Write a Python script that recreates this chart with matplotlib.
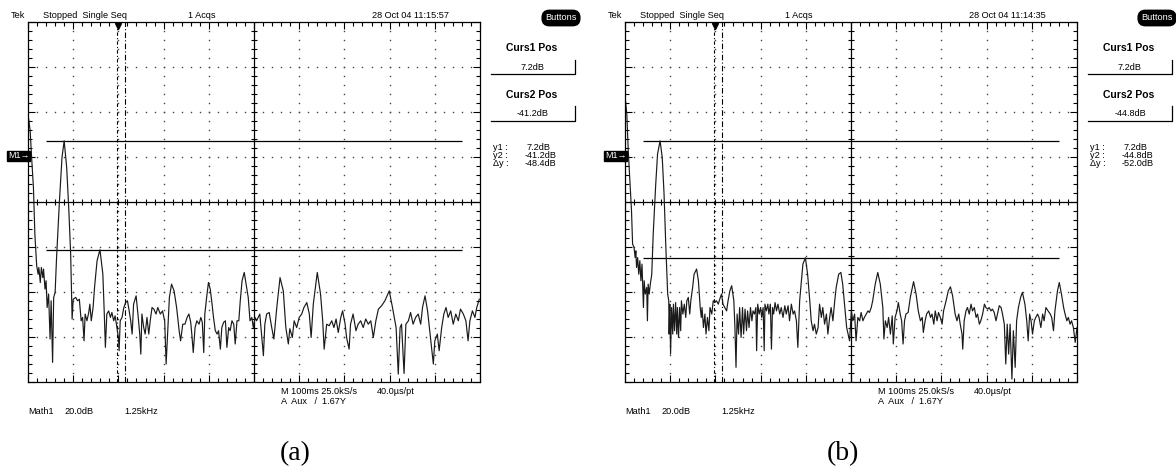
import numpy as np
import matplotlib.pyplot as plt
from matplotlib.lines import Line2D

plt.rcParams['font.family'] = ['Liberation Sans', 'DejaVu Sans']

# FFT of Math1, (frequency in kHz, level in dB)
trace_a = [
    (0.00, 19.1), (0.06, 11.6), (0.10, -0.2), (0.15, -13.5), (0.19, -34.3),
    (0.24, -48.3), (0.28, -52.1), (0.30, -49.1), (0.34, -55.8), (0.37, -49.1),
    (0.41, -53.6), (0.43, -49.8), (0.47, -58.7), (0.50, -55.0), (0.53, -66.9),
    (0.57, -60.9), (0.61, -80.9), (0.64, -63.9), (0.68, -91.3), (0.71, -62.4),
    (0.75, -60.2), (0.79, -44.7), (0.87, -19.5), (0.94, -0.2), (1.00, 7.2),
    (1.07, -4.7), (1.13, -23.9), (1.18, -43.2), (1.22, -72.0), (1.25, -63.2),
    (1.32, -62.4), (1.37, -63.9), (1.42, -63.2), (1.47, -72.8), (1.51, -71.3),
    (1.55, -81.7), (1.58, -69.8), (1.63, -72.8), (1.68, -69.1), (1.71, -65.4),
    (1.75, -72.8), (1.80, -66.9), (1.84, -58.0), (1.91, -46.1), (1.99, -41.2),
    (2.07, -52.1), (2.11, -69.8), (2.14, -84.6), (2.18, -69.8), (2.23, -68.4),
    (2.28, -71.3), (2.32, -69.1), (2.37, -72.8), (2.41, -70.6), (2.46, -75.8),
    (2.50, -80.2), (2.52, -86.1), (2.55, -72.8), (2.60, -71.3), (2.65, -66.9),
    (2.70, -64.7), (2.75, -63.9), (2.79, -67.6), (2.84, -72.8), (2.88, -78.7),
    (2.92, -65.4), (2.99, -61.7), (3.04, -69.8), (3.09, -78.7), (3.12, -87.6),
    (3.15, -69.8), (3.20, -75.8), (3.24, -78.7), (3.29, -71.3), (3.34, -78.7),
    (3.38, -72.8), (3.43, -66.9), (3.48, -67.6), (3.54, -69.8), (3.59, -66.9),
    (3.66, -69.8), (3.72, -68.4), (3.78, -72.8), (3.82, -92.0), (3.86, -78.7),
    (3.91, -62.4), (3.97, -56.5), (4.04, -59.5), (4.11, -66.9), (4.18, -77.2),
    (4.22, -81.7), (4.28, -74.3), (4.34, -74.3), (4.40, -71.3), (4.45, -69.8),
    (4.50, -73.5), (4.53, -78.7), (4.57, -86.9), (4.62, -75.8), (4.67, -72.8),
    (4.73, -74.3), (4.78, -71.3), (4.82, -73.5), (4.86, -86.9), (4.89, -69.8),
    (4.94, -62.4), (4.99, -55.8), (5.04, -58.7), (5.09, -65.4), (5.13, -71.3),
    (5.18, -77.2), (5.23, -78.7), (5.27, -77.2), (5.32, -85.4), (5.36, -75.8),
    (5.41, -73.5), (5.46, -72.8), (5.50, -84.6), (5.55, -75.8), (5.59, -77.2),
    (5.64, -72.8), (5.69, -74.3), (5.73, -83.1), (5.78, -72.8), (5.83, -72.8),
    (5.87, -63.9), (5.92, -55.0), (5.98, -51.3), (6.09, -62.4), (6.14, -72.8),
    (6.19, -71.3), (6.23, -75.8), (6.28, -71.3), (6.32, -72.8), (6.41, -69.8),
    (6.51, -88.3), (6.55, -74.3), (6.60, -69.8), (6.67, -69.1), (6.74, -75.8),
    (6.80, -80.9), (6.88, -66.9), (6.97, -53.6), (7.06, -59.5), (7.13, -75.8),
    (7.20, -83.1), (7.24, -76.3), (7.31, -80.2), (7.36, -72.8), (7.43, -75.8),
    (7.50, -71.3), (7.57, -69.8), (7.63, -66.9), (7.71, -64.7), (7.78, -69.8),
    (7.83, -80.2), (7.89, -65.4), (8.00, -51.3), (8.09, -60.9), (8.15, -72.8),
    (8.19, -85.4), (8.26, -74.3), (8.33, -75.0), (8.40, -72.8), (8.46, -75.8),
    (8.52, -72.0), (8.58, -78.0), (8.65, -71.3), (8.70, -68.4), (8.77, -74.3),
    (8.81, -80.2), (8.88, -85.4), (8.92, -74.3), (8.99, -69.8), (9.07, -77.2),
    (9.13, -74.3), (9.20, -72.8), (9.27, -75.8), (9.34, -72.0), (9.41, -74.3),
    (9.48, -72.8), (9.55, -80.2), (9.62, -72.8), (9.69, -67.6), (9.78, -66.1),
    (9.87, -63.9), (9.99, -59.5), (10.08, -66.9), (10.18, -75.8), (10.24, -96.5),
    (10.29, -75.8), (10.33, -74.3), (10.40, -96.2), (10.45, -74.3), (10.52, -72.8),
    (10.58, -69.1), (10.65, -74.3), (10.72, -71.3), (10.79, -69.8), (10.86, -74.3),
    (10.91, -66.9), (10.98, -61.7), (11.05, -68.4), (11.12, -78.7), (11.16, -84.6),
    (11.21, -92.0), (11.25, -81.7), (11.32, -78.7), (11.37, -86.1), (11.44, -75.8),
    (11.50, -69.8), (11.56, -66.9), (11.62, -71.3), (11.69, -68.4), (11.76, -74.3),
    (11.83, -69.8), (11.90, -72.8), (11.96, -67.6), (12.04, -69.8), (12.11, -72.8),
    (12.17, -81.7), (12.22, -72.8), (12.29, -68.4), (12.36, -71.3), (12.41, -66.9),
    (12.48, -63.2),
]

trace_b = [
    (0.00, 27.2), (0.05, 19.1), (0.09, 2.8), (0.14, -12.0), (0.18, -23.9),
    (0.21, -38.7), (0.25, -40.2), (0.28, -44.7), (0.30, -41.7), (0.32, -49.1),
    (0.35, -44.7), (0.38, -52.1), (0.41, -46.1), (0.44, -55.0), (0.47, -47.6),
    (0.51, -66.9), (0.53, -55.0), (0.56, -60.9), (0.60, -58.0), (0.62, -72.8),
    (0.64, -56.5), (0.67, -60.9), (0.70, -56.5), (0.74, -52.1), (0.78, -34.3),
    (0.85, -12.0), (0.90, 1.3), (0.97, 7.2), (1.03, -0.2), (1.08, -16.5),
    (1.13, -40.2), (1.18, -60.9), (1.21, -63.9), (1.22, -78.7), (1.24, -65.4),
    (1.26, -87.6), (1.29, -66.9), (1.32, -78.7), (1.34, -65.4), (1.37, -77.2),
    (1.40, -64.7), (1.43, -78.7), (1.45, -66.9), (1.48, -80.2), (1.51, -66.9),
    (1.54, -77.2), (1.56, -63.9), (1.60, -69.8), (1.64, -65.4), (1.68, -71.3),
    (1.71, -63.9), (1.75, -62.4), (1.79, -69.8), (1.82, -63.9), (1.87, -58.0),
    (1.91, -52.1), (1.98, -49.8), (2.03, -55.0), (2.08, -66.9), (2.11, -71.3),
    (2.13, -66.9), (2.17, -75.8), (2.21, -69.8), (2.24, -78.7), (2.28, -71.3),
    (2.32, -77.2), (2.35, -66.9), (2.40, -69.8), (2.44, -63.9), (2.48, -64.7),
    (2.53, -63.9), (2.58, -65.4), (2.62, -63.2), (2.67, -60.9), (2.71, -65.4),
    (2.76, -66.9), (2.81, -68.4), (2.85, -63.9), (2.90, -59.5), (2.95, -57.2),
    (3.01, -63.9), (3.04, -75.8), (3.07, -93.5), (3.10, -69.8), (3.14, -78.7),
    (3.17, -66.9), (3.21, -80.2), (3.25, -66.9), (3.28, -78.7), (3.32, -67.6),
    (3.36, -77.2), (3.39, -68.4), (3.43, -75.8), (3.47, -66.9), (3.51, -72.8),
    (3.54, -68.4), (3.58, -69.8), (3.62, -66.9), (3.64, -86.1), (3.67, -65.4),
    (3.71, -69.8), (3.75, -66.9), (3.78, -71.3), (3.82, -66.9), (3.85, -86.1),
    (3.87, -65.4), (3.91, -68.4), (3.95, -65.4), (3.98, -69.8), (4.02, -65.4),
    (4.05, -85.4), (4.08, -66.9), (4.11, -69.8), (4.15, -64.7), (4.19, -68.4),
    (4.23, -65.4), (4.28, -69.8), (4.32, -66.9), (4.37, -71.3), (4.42, -66.1),
    (4.46, -69.8), (4.51, -66.1), (4.55, -72.8), (4.60, -65.4), (4.65, -69.8),
    (4.69, -68.4), (4.74, -72.8), (4.78, -84.6), (4.83, -63.9), (4.88, -55.0),
    (4.92, -47.6), (4.99, -44.8), (5.05, -52.1), (5.11, -63.9), (5.15, -72.8),
    (5.20, -77.2), (5.24, -74.3), (5.29, -78.7), (5.34, -75.8), (5.38, -65.4),
    (5.43, -71.3), (5.47, -66.9), (5.52, -74.3), (5.57, -69.8), (5.61, -78.7),
    (5.66, -71.3), (5.70, -66.9), (5.75, -72.8), (5.80, -63.9), (5.84, -58.0),
    (5.91, -52.1), (5.97, -51.3), (6.02, -56.5), (6.08, -66.9), (6.13, -75.8),
    (6.17, -78.7), (6.21, -81.7), (6.26, -68.4), (6.30, -72.8), (6.35, -69.8),
    (6.39, -81.7), (6.44, -71.3), (6.49, -72.8), (6.53, -69.1), (6.58, -72.8),
    (6.62, -71.3), (6.67, -69.8), (6.72, -68.4), (6.76, -69.1), (6.81, -66.9),
    (6.85, -63.9), (6.92, -56.5), (6.99, -51.3), (7.06, -56.5), (7.13, -66.9),
    (7.16, -80.9), (7.20, -72.8), (7.25, -75.8), (7.29, -71.3), (7.34, -78.7),
    (7.39, -70.6), (7.42, -83.1), (7.47, -71.3), (7.52, -68.4), (7.56, -64.7),
    (7.61, -69.8), (7.65, -72.8), (7.69, -83.1), (7.73, -72.8), (7.77, -69.8),
    (7.83, -69.1), (7.89, -62.4), (7.98, -55.4), (8.05, -60.9), (8.11, -68.4),
    (8.17, -72.8), (8.22, -71.3), (8.25, -78.0), (8.30, -72.8), (8.34, -69.8),
    (8.40, -68.4), (8.45, -71.3), (8.49, -69.8), (8.54, -74.3), (8.58, -68.4),
    (8.63, -72.8), (8.67, -69.1), (8.72, -71.3), (8.77, -74.3), (8.81, -68.4),
    (8.88, -63.9), (8.94, -59.5), (9.00, -57.7), (9.06, -61.7), (9.13, -69.8),
    (9.18, -72.8), (9.23, -69.8), (9.27, -74.3), (9.32, -78.7), (9.34, -85.4),
    (9.38, -72.8), (9.43, -68.4), (9.47, -66.9), (9.52, -69.8), (9.57, -65.4),
    (9.61, -68.4), (9.66, -66.9), (9.71, -71.3), (9.75, -69.8), (9.80, -74.3),
    (9.84, -72.8), (9.89, -69.8), (9.94, -65.4), (9.98, -66.9), (10.03, -67.6),
    (10.07, -66.9), (10.12, -68.4), (10.16, -67.6), (10.21, -69.1), (10.26, -72.8),
    (10.30, -69.8), (10.35, -66.1), (10.40, -66.9), (10.44, -69.8), (10.49, -74.3),
    (10.53, -92.0), (10.57, -74.3), (10.61, -87.6), (10.65, -74.3), (10.70, -98.7),
    (10.74, -77.2), (10.79, -93.5), (10.83, -72.8), (10.88, -66.9), (10.94, -62.4),
    (10.99, -60.2), (11.06, -65.4), (11.11, -72.8), (11.15, -81.7), (11.19, -69.8),
    (11.23, -72.8), (11.27, -78.7), (11.32, -72.8), (11.36, -71.3), (11.41, -69.8),
    (11.45, -71.3), (11.50, -75.8), (11.55, -69.8), (11.59, -72.8), (11.64, -66.9),
    (11.70, -68.4), (11.76, -69.8), (11.80, -71.3), (11.85, -77.2), (11.89, -68.4),
    (11.96, -59.5), (12.01, -55.8), (12.07, -60.9), (12.13, -66.9), (12.17, -69.8),
    (12.22, -72.8), (12.26, -71.3), (12.31, -74.3), (12.35, -72.8), (12.40, -75.8),
    (12.45, -82.4), (12.50, -75.8),
]

traces = [trace_a, trace_b]
curs1_db = [7.2, 7.2]
curs2_db = [-41.2, -44.8]
timestamps = ["28 Oct 04 11:15:57", "28 Oct 04 11:14:35"]
captions = ["(a)", "(b)"]
caption_x = [295, 843]
buttons_x = [561, 1157]

# scope settings
khz_per_div = 1.25
db_per_div = 20.0
center_db = -20.0
cursor_span = (0.5, 12.0)       # horizontal cursor bars, kHz
vcursors = (2.45, 2.69)         # vertical dash-dot cursors, kHz
trigger_khz = 2.49

W, H = 1176, 472
fig = plt.figure(figsize=(W / 100, H / 100), dpi=100)


def fx(x):
    return x / W


def fy(y):
    return 1 - y / H


def ftext(x, y, s, **kw):
    kw.setdefault('fontsize', 6.6)
    kw.setdefault('va', 'center')
    kw.setdefault('color', 'black')
    fig.text(fx(x), fy(y), s, **kw)


def fline(xs, ys, lw=0.9):
    fig.add_artist(Line2D([fx(v) for v in xs], [fy(v) for v in ys],
                          color='black', lw=lw))


def draw_panel(i, dx):
    f, lev = np.array(traces[i]).T
    x0, x1, y0, y1 = 28 + dx, 480 + dx, 22, 382
    ax = fig.add_axes([fx(x0), fy(y1), (x1 - x0) / W, (y1 - y0) / H])
    xmax = 10 * khz_per_div
    ymin, ymax = center_db - 4 * db_per_div, center_db + 4 * db_per_div
    ax.set_xlim(0, xmax)
    ax.set_ylim(ymin, ymax)

    # graticule frame with inward ticks
    xmaj = np.arange(0, xmax + 1e-6, khz_per_div)
    ymaj = np.arange(ymin, ymax + 1e-6, db_per_div)
    xmin_t = np.arange(0, xmax + 1e-6, khz_per_div / 5)
    ymin_t = np.arange(ymin, ymax + 1e-6, db_per_div / 5)
    ax.set_xticks(xmaj)
    ax.set_yticks(ymaj)
    ax.set_xticks(xmin_t, minor=True)
    ax.set_yticks(ymin_t, minor=True)
    ax.tick_params(which='both', direction='in', top=True, right=True,
                   labelbottom=False, labelleft=False, color='black', width=0.8)
    ax.tick_params(which='major', length=5)
    ax.tick_params(which='minor', length=3)
    for s in ax.spines.values():
        s.set_linewidth(0.9)

    # dotted division lines
    for xv in xmaj[1:-1]:
        if abs(xv - xmax / 2) < 1e-6:
            continue
        ax.plot(np.full_like(ymin_t, xv), ymin_t, ls='none', marker='s',
                ms=1.0, mew=0, color='#444444')
    for yv in ymaj[1:-1]:
        if abs(yv - center_db) < 1e-6:
            continue
        ax.plot(xmin_t, np.full_like(xmin_t, yv), ls='none', marker='s',
                ms=1.0, mew=0, color='#444444')

    # center crosshair with minor ticks
    ax.axhline(center_db, color='black', lw=0.9)
    ax.axvline(xmax / 2, color='black', lw=0.9)
    ax.plot(xmin_t, np.full_like(xmin_t, center_db), ls='none', marker='|',
            ms=5, mew=0.8, color='black')
    ax.plot(np.full_like(ymin_t, xmax / 2), ymin_t, ls='none', marker='_',
            ms=5, mew=0.8, color='black')

    # cursors
    ax.hlines([curs1_db[i], curs2_db[i]], *cursor_span, color='black', lw=0.9)
    ax.axvline(vcursors[0], color='black', lw=0.8, ls=(0, (3, 2, 1, 2)))
    ax.axvline(vcursors[1], color='black', lw=0.8, ls=(0, (5, 2, 1, 2)))
    ax.plot(trigger_khz, ymax - 1.6, marker='v', ms=5, color='black',
            clip_on=False)

    # spectrum
    ax.plot(f, lev, color='#1a1a1a', lw=0.85)

    # header line
    ftext(11 + dx, 15, "Tek")
    ftext(43 + dx, 15, "Stopped  Single Seq")
    ftext(188 + dx, 15, "1 Acqs")
    ftext(449 + dx, 15, timestamps[i], ha='right')
    ftext(buttons_x[i], 18, "Buttons", ha='center', color='white',
          bbox=dict(boxstyle='round,pad=0.35,rounding_size=0.8',
                    fc='black', ec='black'))

    # cursor readouts
    ftext(532 + dx, 48, "Curs1 Pos", ha='center', fontsize=7.5, weight='bold')
    ftext(533 + dx, 67, f"{curs1_db[i]:.1f}dB", ha='center')
    fline([491 + dx, 575 + dx, 575 + dx], [74, 74, 60])
    ftext(532 + dx, 95, "Curs2 Pos", ha='center', fontsize=7.5, weight='bold')
    ftext(533 + dx, 113, f"{curs2_db[i]:.1f}dB", ha='center')
    fline([491 + dx, 575 + dx, 575 + dx], [121, 121, 106])
    ftext(493 + dx, 147, "y1 :")
    ftext(493 + dx, 155, "y2 :")
    ftext(493 + dx, 163, "\u0394y :")
    ftext(527 + dx, 147, f"{curs1_db[i]:.1f}dB")
    ftext(525 + dx, 155, f"{curs2_db[i]:.1f}dB")
    ftext(525 + dx, 163, f"{curs2_db[i] - curs1_db[i]:.1f}dB")

    # reference marker
    ftext(8 + dx, 156, "M1\u2192", color='white', fontsize=6.5,
          bbox=dict(boxstyle='square,pad=0.1', fc='black', ec='black'))

    # bottom status
    ftext(281 + dx, 391, "M 100ms 25.0kS/s")
    ftext(377 + dx, 391, "40.0\u00b5s/pt")
    ftext(281 + dx, 401, "A  Aux   /  1.67Y")
    ftext(28 + dx, 412, "Math1")
    ftext(64 + dx, 412, "20.0dB")
    ftext(124 + dx, 412, "1.25kHz")

    ftext(caption_x[i], 454, captions[i], ha='center', fontsize=20,
          family=['Liberation Serif', 'DejaVu Serif'])


draw_panel(0, 0)
draw_panel(1, 597)

fig.savefig("out.png", dpi=100, facecolor='white')
